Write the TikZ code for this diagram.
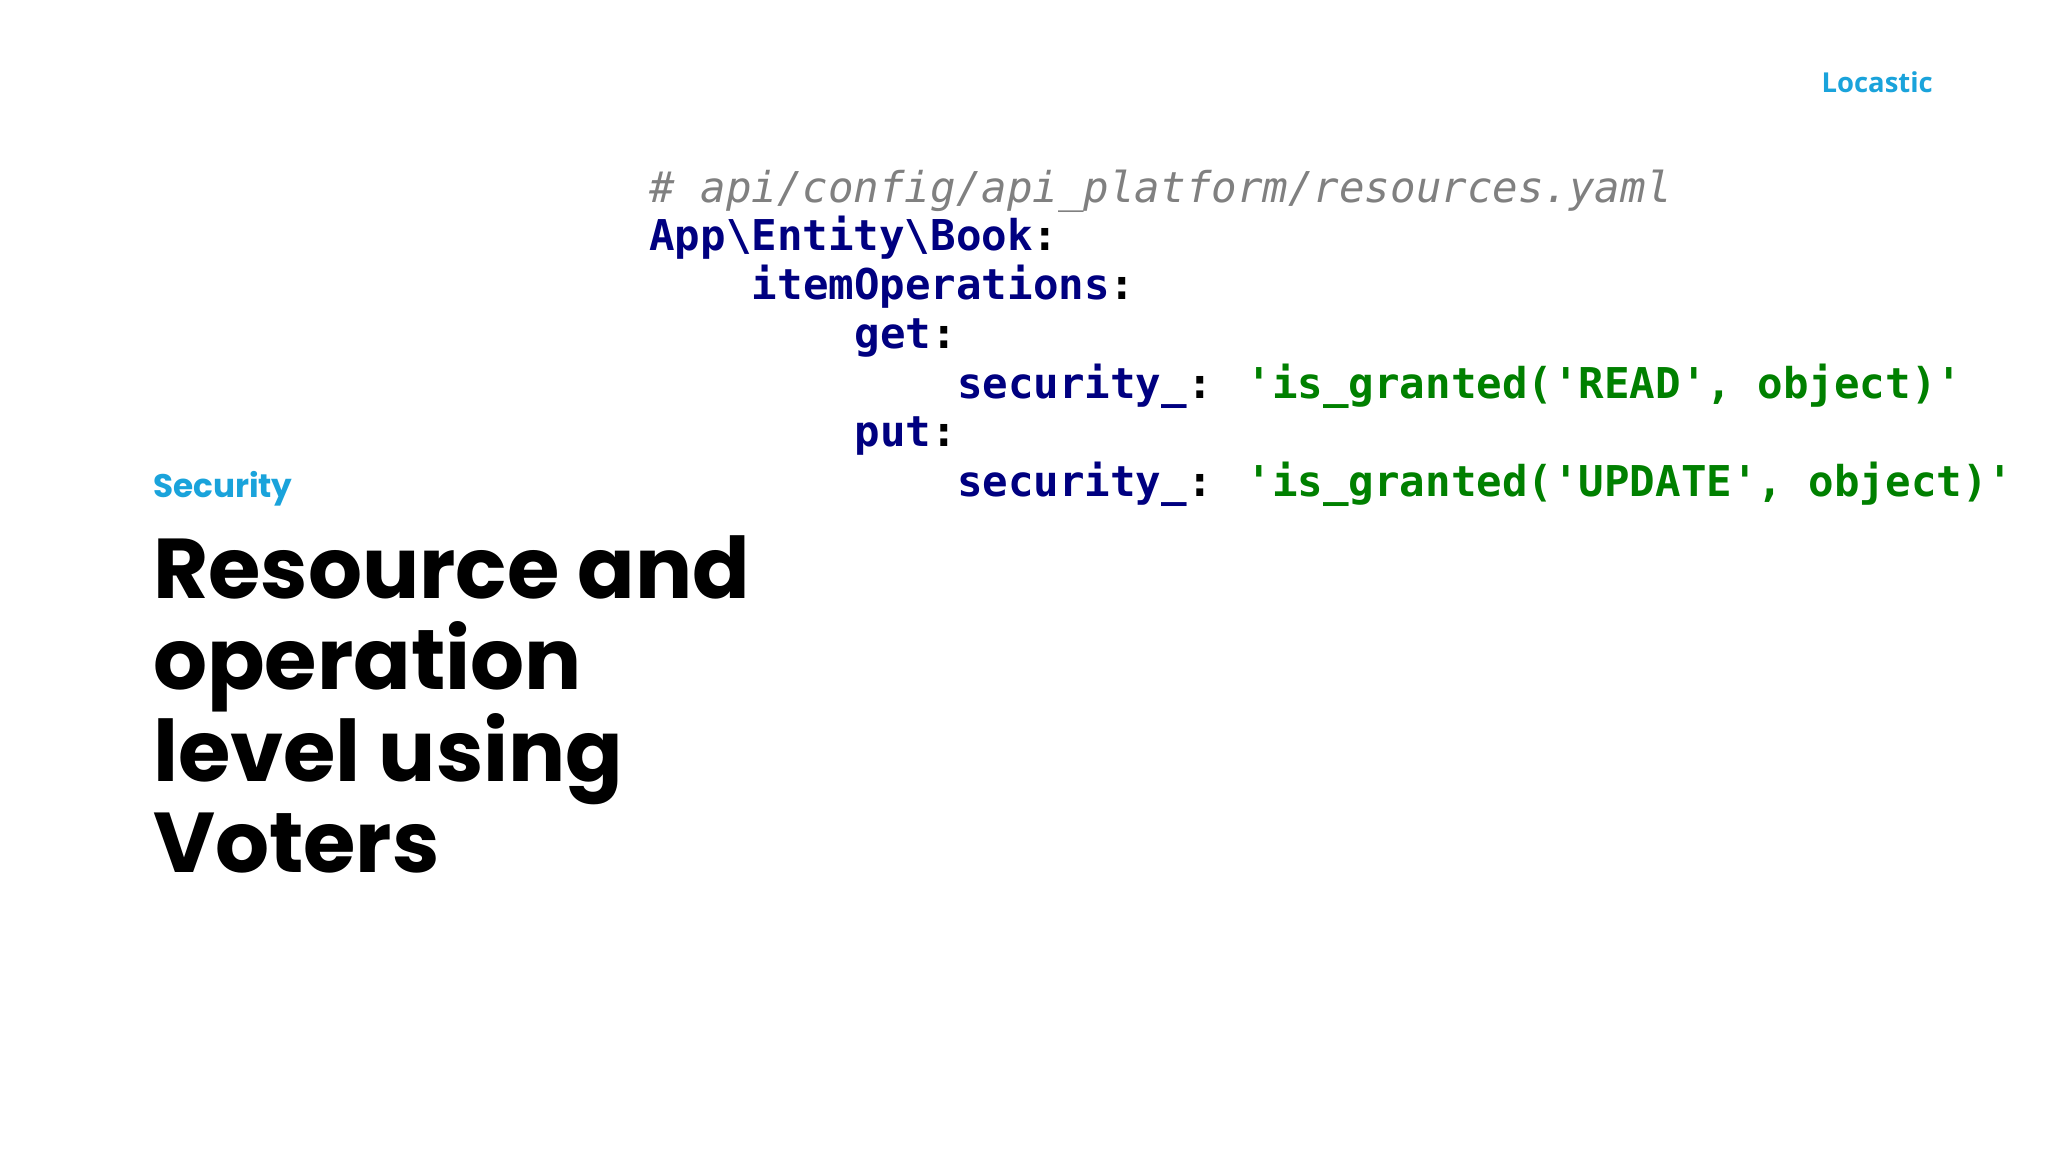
\documentclass[tikz,border=0pt]{standalone}
\usepackage{fontspec}
\setmainfont{Poppins}
\newfontfamily\codefont{DejaVu Sans Mono}
\newfontfamily\logofont{Open Sans}
\definecolor{kblue}{HTML}{000080}
\definecolor{kgreen}{HTML}{008000}
\definecolor{kgray}{HTML}{808080}
\definecolor{lblue}{HTML}{1AA3DB}
\begin{document}
\begin{tikzpicture}[x=1pt,y=-1pt,
  code/.style={anchor=base west,inner sep=0pt,font=\codefont\fontsize{32.5}{36}\selectfont},
  title/.style={anchor=base west,inner sep=0pt,font=\bfseries\fontsize{65}{70}\selectfont}]
\useasboundingbox[fill=white] (0,0) rectangle (1568,882);
\node[anchor=base east,inner sep=0pt,text=lblue,font=\logofont\bfseries\fontsize{21}{24}\selectfont] (logo) at (1480,71) {Locastic};
\node[code,text=kgray,font=\codefont\itshape\fontsize{32.5}{36}\selectfont] (c0) at (497,155) {\# api/config/api\_platform/resources.yaml};
\node[code,text=kblue] (c1) at (497,192) {\bfseries App\textbackslash Entity\textbackslash Book\textcolor{black}{:}};
\node[code,text=kblue] (c2) at (575.5,229) {\bfseries itemOperations\textcolor{black}{:}};
\node[code,text=kblue] (c3) at (654,267) {\bfseries get\textcolor{black}{:}};
\node[code,text=kblue] (c4) at (732.5,305) {\bfseries security\_\textcolor{black}{:} \textcolor{kgreen}{'is\_granted('READ', object)'}};
\node[code,text=kblue] (c5) at (654,342) {\bfseries put\textcolor{black}{:}};
\node[code,text=kblue] (c6) at (732.5,380) {\bfseries security\_\textcolor{black}{:} \textcolor{kgreen}{'is\_granted('UPDATE', object)'}};
\node[anchor=base west,inner sep=0pt,text=lblue,font=\bfseries\fontsize{25}{28}\selectfont] (sec) at (117,381) {Security};
\node[title] (t1) at (117,458) {Resource and};
\node[title] (t2) at (117,528) {operation};
\node[title] (t3) at (117,598) {level using};
\node[title] (t4) at (117,668) {Voters};
\end{tikzpicture}
\end{document}
